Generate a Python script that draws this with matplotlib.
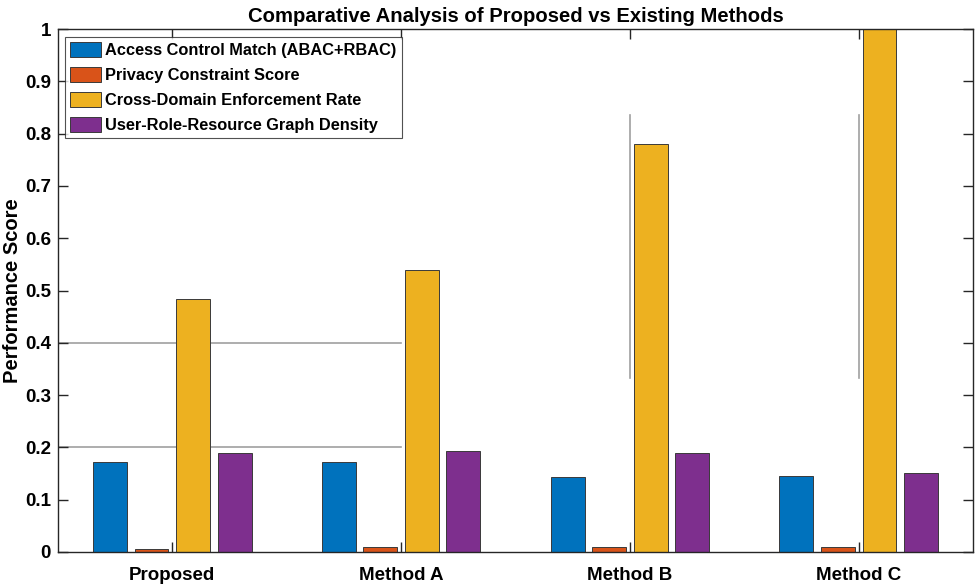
import matplotlib.pyplot as plt
import numpy as np

plt.rcParams["font.family"] = ["Liberation Sans", "DejaVu Sans"]
plt.rcParams["font.weight"] = "bold"

methods = ["Proposed", "Method A", "Method B", "Method C"]
series_names = [
    "Access Control Match (ABAC+RBAC)",
    "Privacy Constraint Score",
    "Cross-Domain Enforcement Rate",
    "User-Role-Resource Graph Density",
]
access_match = [0.172, 0.172, 0.144, 0.146]
privacy_score = [0.005, 0.009, 0.010, 0.010]
cross_domain = [0.484, 0.540, 0.780, 1.000]
graph_density = [0.189, 0.193, 0.189, 0.152]

# faint leftover grid segments seen in the source image
hgrid_values = [0.2, 0.4]
vgrid_methods = [3, 4]
vgrid_range = [0.333, 0.836]

colors = ["#0072BD", "#D95319", "#EDB120", "#7E2F8E"]
offsets = [-0.272, -0.091, 0.091, 0.272]
bar_w = 0.148

fig = plt.figure(figsize=(9.76, 5.86), dpi=100)
ax = fig.add_axes([58 / 976, 1 - 552 / 586, (973 - 58) / 976, (552 - 29) / 586])

x = np.arange(1, len(methods) + 1)

for yv in hgrid_values:
    ax.plot([0.5, 2.0], [yv, yv], color="#a0a0a0", lw=1.2, zorder=0.5)
for xv in vgrid_methods:
    ax.plot([xv, xv], vgrid_range, color="#a0a0a0", lw=1.2, zorder=0.5)

all_series = [access_match, privacy_score, cross_domain, graph_density]
for vals, name, c, off in zip(all_series, series_names, colors, offsets):
    ax.bar(x + off, vals, width=bar_w, color=c, edgecolor="#3a3a3a",
           linewidth=0.7, label=name, zorder=2)

ax.set_xlim(0.5, 4.5)
ax.set_ylim(0, 1)
ax.set_xticks(x)
ax.set_xticklabels(methods, fontsize=13.5, fontweight="bold")
ax.set_yticks(np.arange(0, 1.01, 0.1))
ax.set_yticklabels(["0"] + [f"{v:.1f}" for v in np.arange(0.1, 0.95, 0.1)] + ["1"],
                   fontsize=13.5, fontweight="bold")
ax.tick_params(direction="in", length=7, width=1.0, color="#262626",
               top=True, right=True, pad=5)
ax.tick_params(axis="x", pad=11)
for s in ax.spines.values():
    s.set_color("#262626")
    s.set_linewidth(1.0)

ax.set_ylabel("Performance Score", fontsize=14.5, fontweight="bold", labelpad=2)
ax.set_title("Comparative Analysis of Proposed vs Existing Methods",
             fontsize=14.6, fontweight="bold", pad=5)

leg = ax.legend(loc="upper left", bbox_to_anchor=(0.008, 0.985), fontsize=11.8,
                frameon=True, fancybox=False, edgecolor="#262626",
                handlelength=1.9, handleheight=1.1, handletextpad=0.25,
                labelspacing=0.52, borderpad=0.3, borderaxespad=0)
leg.get_frame().set_linewidth(0.8)
for t in leg.get_texts():
    t.set_fontweight("bold")

fig.savefig("out.png", dpi=100)
